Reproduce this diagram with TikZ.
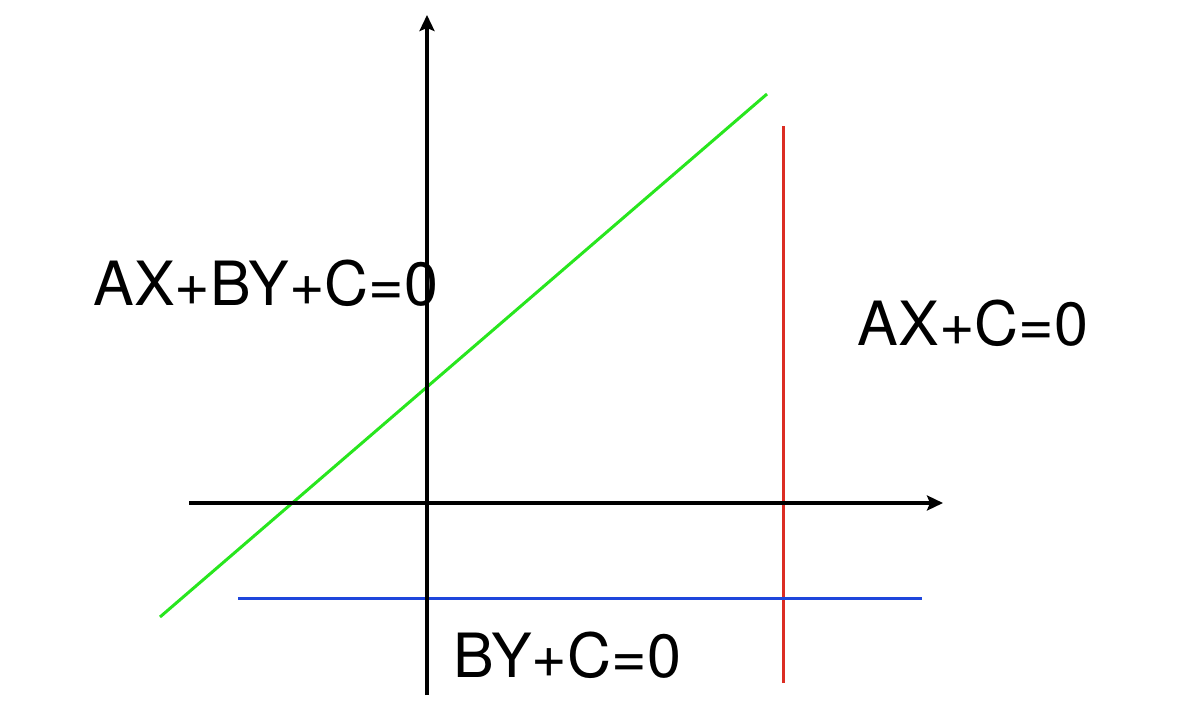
\documentclass[tikz,border=0pt]{standalone}
\usepackage{fontspec}
\setmainfont{TeX Gyre Heros}
\usetikzlibrary{arrows.meta}
\begin{document}
\begin{tikzpicture}[x=0.5pt,y=0.5pt,
  axis/.style={line width=1.6pt,black,-{Stealth[length=8pt,width=7.5pt,inset=1.5pt]}},
  gline/.style={line width=1.5pt,color={rgb,255:red,40;green,230;blue,30}},
  rline/.style={line width=1.5pt,color={rgb,255:red,220;green,45;blue,35}},
  bline/.style={line width=1.5pt,color={rgb,255:red,30;green,70;blue,220}},
  lab/.style={inner sep=0pt,font=\fontsize{30.5}{36}\selectfont,anchor=base}]
\useasboundingbox (0,0) rectangle (1190,725);
% axes
\coordinate (yb) at (427,30);
\coordinate (yt) at (427,710);
\coordinate (xl) at (189,222);
\coordinate (xr) at (943,222);
% lines
\coordinate (g1) at (160,108);
\coordinate (g2) at (767,631);
\coordinate (r1) at (783,42);
\coordinate (r2) at (783,599);
\coordinate (b1) at (238,127);
\coordinate (b2) at (922,127);
\draw[gline] (g1) -- (g2);
\draw[rline] (r1) -- (r2);
\draw[bline] (b1) -- (b2);
\draw[axis] (yb) -- (yt);
\draw[axis] (xl) -- (xr);
% labels
\node[lab] (l1) at (266,420) {AX+BY+C=0};
\node[lab] (l2) at (973,380) {AX+C=0};
\node[lab] (l3) at (567,48) {BY+C=0};
\end{tikzpicture}
\end{document}
